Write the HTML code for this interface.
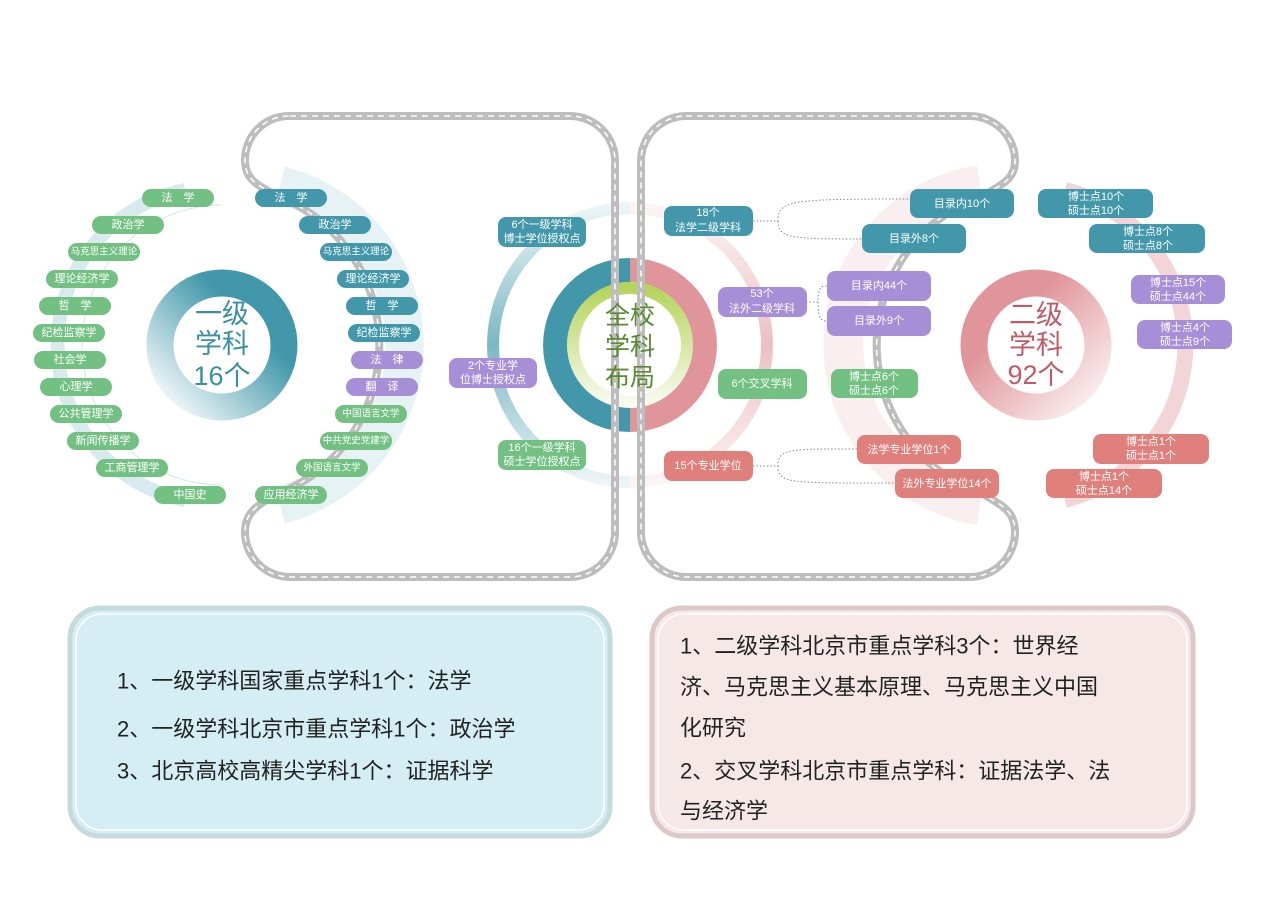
<!DOCTYPE html>
<html><head><meta charset="utf-8"><style>
body{margin:0;background:#fff;}
svg{display:block;font-family:"Liberation Sans","Noto Sans CJK SC",sans-serif;}
.t{fill:#fff;font-size:11px;text-anchor:middle;dominant-baseline:central;}
.s{font-size:9.5px;}
.big{font-size:22px;fill:#222;}
</style></head><body>
<svg width="1269" height="898" viewBox="0 0 1269 898" xmlns="http://www.w3.org/2000/svg">
<defs>
<linearGradient id="tg" x1="1" y1="0" x2="0" y2="1"><stop offset="0.3" stop-color="#4298aa"/><stop offset="1" stop-color="#4298aa" stop-opacity="0"/></linearGradient>
<linearGradient id="pg" x1="0" y1="0" x2="1" y2="1"><stop offset="0.3" stop-color="#e0959a"/><stop offset="1" stop-color="#e0959a" stop-opacity="0.1"/></linearGradient>
<linearGradient id="gg" x1="0" y1="0" x2="0" y2="1"><stop offset="0" stop-color="#b5d45a"/><stop offset="1" stop-color="#b5d45a" stop-opacity="0.1"/></linearGradient>
<linearGradient id="lb" x1="0" y1="0" x2="0" y2="1"><stop offset="0" stop-color="#4298aa" stop-opacity="0.1"/><stop offset="0.5" stop-color="#4298aa" stop-opacity="0.7"/><stop offset="1" stop-color="#4298aa" stop-opacity="0.1"/></linearGradient>
<linearGradient id="rp" x1="0" y1="0" x2="0" y2="1"><stop offset="0" stop-color="#e0959a" stop-opacity="0.1"/><stop offset="0.5" stop-color="#e0959a" stop-opacity="0.6"/><stop offset="1" stop-color="#e0959a" stop-opacity="0.1"/></linearGradient>
</defs>
<!-- soft glows -->
<path d="M280 185 A165 165 0 0 1 280 505" fill="none" stroke="#4298aa" stroke-opacity="0.13" stroke-width="38"/>
<path d="M185 190 A158 158 0 0 0 185 500" fill="none" stroke="#4298aa" stroke-opacity="0.2" stroke-width="14"/>
<path d="M222 205 A140 140 0 0 0 222 485" fill="none" stroke="#4298aa" stroke-opacity="0.25" stroke-width="1"/>
<path d="M980 185 A162 162 0 0 0 980 505" fill="none" stroke="#e0959a" stroke-opacity="0.15" stroke-width="40"/>
<path d="M1065 190 A160 160 0 0 1 1065 500" fill="none" stroke="#e0959a" stroke-opacity="0.4" stroke-width="16"/>
<!-- left donut -->
<circle cx="222" cy="345" r="62" fill="none" stroke="url(#tg)" stroke-width="27"/>
<text x="222" y="314" font-size="27" fill="#3a8fa3" text-anchor="middle" dominant-baseline="central">一级</text>
<text x="222" y="344" font-size="27" fill="#3a8fa3" text-anchor="middle" dominant-baseline="central">学科</text>
<text x="222" y="376" font-size="27" fill="#3a8fa3" text-anchor="middle" dominant-baseline="central">16个</text>
<!-- right donut -->
<circle cx="1036" cy="345" r="62" fill="none" stroke="url(#pg)" stroke-width="27"/>
<text x="1036" y="315" font-size="27" fill="#c05a66" text-anchor="middle" dominant-baseline="central">二级</text>
<text x="1036" y="345" font-size="27" fill="#c05a66" text-anchor="middle" dominant-baseline="central">学科</text>
<text x="1036" y="375" font-size="27" fill="#c05a66" text-anchor="middle" dominant-baseline="central">92个</text>
<!-- center big ring -->
<path d="M630 208 A137 137 0 0 0 630 482" fill="none" stroke="url(#lb)" stroke-width="12"/>
<path d="M630 208 A137 137 0 0 1 630 482" fill="none" stroke="url(#rp)" stroke-width="12"/>
<path d="M630 258 A87 87 0 0 0 630 432 Z" fill="#4298aa"/>
<path d="M630 258 A87 87 0 0 1 630 432 Z" fill="#e0959a"/>
<circle cx="630" cy="345" r="63" fill="#fff"/>
<circle cx="630" cy="345" r="57" fill="none" stroke="url(#gg)" stroke-width="12"/>
<!-- roads -->
<g fill="none">
<path d="M290 116 H570 A45 45 0 0 1 615 161 V532 A45 45 0 0 1 570 577 H290 A45 45 0 0 1 245 532 C245 512 258 505 275 495 A160 160 0 0 0 275 195 C258 185 245 180 245 160 A44 44 0 0 1 290 116 Z" stroke="#bdbdbd" stroke-width="8"/>
<path d="M290 116 H570 A45 45 0 0 1 615 161 V532 A45 45 0 0 1 570 577 H290 A45 45 0 0 1 245 532 C245 512 258 505 275 495 A160 160 0 0 0 275 195 C258 185 245 180 245 160 A44 44 0 0 1 290 116 Z" stroke="#fff" stroke-width="1.5" stroke-dasharray="6 5"/>
<path d="M686 116 H970 A45 45 0 0 1 1015 161 C1015 180 1000 185 985 195 A158 158 0 0 0 985 495 C1000 505 1015 510 1015 532 A45 45 0 0 1 970 577 H686 A45 45 0 0 1 641 532 V161 A45 45 0 0 1 686 116 Z" stroke="#bdbdbd" stroke-width="8"/>
<path d="M686 116 H970 A45 45 0 0 1 1015 161 C1015 180 1000 185 985 195 A158 158 0 0 0 985 495 C1000 505 1015 510 1015 532 A45 45 0 0 1 970 577 H686 A45 45 0 0 1 641 532 V161 A45 45 0 0 1 686 116 Z" stroke="#fff" stroke-width="1.5" stroke-dasharray="6 5"/>
</g>
<text x="630" y="316" font-size="25" fill="#5a8a32" text-anchor="middle" dominant-baseline="central">全校</text>
<text x="630" y="347" font-size="25" fill="#5a8a32" text-anchor="middle" dominant-baseline="central">学科</text>
<text x="630" y="378" font-size="25" fill="#5a8a32" text-anchor="middle" dominant-baseline="central">布局</text>
<!-- dotted connectors -->
<g fill="none" stroke="#888" stroke-width="1" stroke-dasharray="1.5 2">
<path d="M753 221 H778 C778 200 790 199 910 199 M778 221 C778 238 790 239 862 239"/>
<path d="M806 302 H818 C818 286 822 286 827 286 M818 302 C818 320 822 321 827 321"/>
<path d="M753 466 H778 C778 448 790 449 857 449 M778 466 C778 484 790 483 895 483"/>
</g>
<!-- left green pills -->
<g>
<g fill="#72c182">
<rect x="142" y="189" width="72" height="18" rx="9"/><rect x="92" y="216" width="72" height="18" rx="9"/>
<rect x="68" y="243" width="72" height="18" rx="9"/><rect x="46" y="270" width="72" height="18" rx="9"/>
<rect x="39" y="297" width="72" height="18" rx="9"/><rect x="33" y="324" width="72" height="18" rx="9"/>
<rect x="34" y="351" width="72" height="18" rx="9"/><rect x="40" y="378" width="72" height="18" rx="9"/>
<rect x="50" y="405" width="72" height="18" rx="9"/><rect x="67" y="432" width="72" height="18" rx="9"/>
<rect x="96" y="459" width="72" height="18" rx="9"/><rect x="154" y="486" width="72" height="18" rx="9"/>
</g>
<text class="t" x="178" y="198">法　学</text><text class="t" x="128" y="225">政治学</text>
<text class="t s" x="104" y="252">马克思主义理论</text><text class="t" x="82" y="279">理论经济学</text>
<text class="t" x="75" y="306">哲　学</text><text class="t" x="69" y="333">纪检监察学</text>
<text class="t" x="70" y="360">社会学</text><text class="t" x="76" y="387">心理学</text>
<text class="t" x="86" y="414">公共管理学</text><text class="t" x="103" y="441">新闻传播学</text>
<text class="t" x="132" y="468">工商管理学</text><text class="t" x="190" y="495">中国史</text>
</g>
<!-- right column pills -->
<g>
<rect x="255" y="189" width="72" height="18" rx="9" fill="#4298aa"/>
<rect x="299" y="216" width="72" height="18" rx="9" fill="#4298aa"/>
<rect x="320" y="243" width="72" height="18" rx="9" fill="#4298aa"/>
<rect x="337" y="270" width="72" height="18" rx="9" fill="#4298aa"/>
<rect x="346" y="297" width="72" height="18" rx="9" fill="#4298aa"/>
<rect x="348" y="324" width="72" height="18" rx="9" fill="#4298aa"/>
<rect x="351" y="351" width="72" height="18" rx="9" fill="#a68fd6"/>
<rect x="346" y="378" width="72" height="18" rx="9" fill="#a68fd6"/>
<rect x="335" y="405" width="72" height="18" rx="9" fill="#72c182"/>
<rect x="320" y="432" width="72" height="18" rx="9" fill="#72c182"/>
<rect x="296" y="459" width="72" height="18" rx="9" fill="#72c182"/>
<rect x="255" y="486" width="72" height="18" rx="9" fill="#72c182"/>
<text class="t" x="291" y="198">法　学</text><text class="t" x="335" y="225">政治学</text>
<text class="t s" x="356" y="252">马克思主义理论</text><text class="t" x="373" y="279">理论经济学</text>
<text class="t" x="382" y="306">哲　学</text><text class="t" x="384" y="333">纪检监察学</text>
<text class="t" x="387" y="360">法　律</text><text class="t" x="382" y="387">翻　译</text>
<text class="t s" x="371" y="414">中国语言文学</text><text class="t s" x="356" y="441">中共党史党建学</text>
<text class="t s" x="332" y="468">外国语言文学</text><text class="t" x="291" y="495">应用经济学</text>
</g>
<!-- center labels -->
<g>
<rect x="498" y="217" width="88" height="30" rx="8" fill="#4298aa"/>
<text class="t" x="542" y="225">6个一级学科</text><text class="t" x="542" y="239">博士学位授权点</text>
<rect x="449" y="358" width="88" height="30" rx="8" fill="#a68fd6"/>
<text class="t" x="493" y="366">2个专业学</text><text class="t" x="493" y="380">位博士授权点</text>
<rect x="498" y="440" width="88" height="30" rx="8" fill="#72c182"/>
<text class="t" x="542" y="448">16个一级学科</text><text class="t" x="542" y="462">硕士学位授权点</text>
<rect x="664" y="206" width="89" height="30" rx="8" fill="#4298aa"/>
<text class="t" x="708" y="213">18个</text><text class="t" x="708" y="228">法学二级学科</text>
<rect x="718" y="287" width="89" height="30" rx="8" fill="#a68fd6"/>
<text class="t" x="762" y="294">53个</text><text class="t" x="762" y="309">法外二级学科</text>
<rect x="718" y="369" width="89" height="30" rx="8" fill="#72c182"/>
<text class="t" x="762" y="384">6个交叉学科</text>
<rect x="664" y="451" width="89" height="30" rx="8" fill="#e0807c"/>
<text class="t" x="708" y="466">15个专业学位</text>
</g>
<!-- right side labels -->
<g>
<rect x="910" y="189" width="104" height="29" rx="8" fill="#4298aa"/><text class="t" x="962" y="204">目录内10个</text>
<rect x="862" y="224" width="104" height="29" rx="8" fill="#4298aa"/><text class="t" x="914" y="239">目录外8个</text>
<rect x="827" y="271" width="104" height="30" rx="8" fill="#a68fd6"/><text class="t" x="879" y="286">目录内44个</text>
<rect x="827" y="306" width="104" height="30" rx="8" fill="#a68fd6"/><text class="t" x="879" y="321">目录外9个</text>
<rect x="831" y="369" width="87" height="29" rx="8" fill="#72c182"/><text class="t" x="874" y="377">博士点6个</text><text class="t" x="874" y="391">硕士点6个</text>
<rect x="857" y="435" width="104" height="29" rx="8" fill="#e0807c"/><text class="t" x="909" y="450">法学专业学位1个</text>
<rect x="895" y="469" width="104" height="29" rx="8" fill="#e0807c"/><text class="t" x="947" y="484">法外专业学位14个</text>
<rect x="1038" y="189" width="115" height="29" rx="8" fill="#4298aa"/><text class="t" x="1096" y="197">博士点10个</text><text class="t" x="1096" y="211">硕士点10个</text>
<rect x="1089" y="224" width="116" height="29" rx="8" fill="#4298aa"/><text class="t" x="1148" y="232">博士点8个</text><text class="t" x="1148" y="246">硕士点8个</text>
<rect x="1131" y="275" width="94" height="29" rx="8" fill="#a68fd6"/><text class="t" x="1178" y="283">博士点15个</text><text class="t" x="1178" y="297">硕士点44个</text>
<rect x="1137" y="320" width="95" height="29" rx="8" fill="#a68fd6"/><text class="t" x="1185" y="328">博士点4个</text><text class="t" x="1185" y="342">硕士点9个</text>
<rect x="1093" y="434" width="116" height="30" rx="8" fill="#e0807c"/><text class="t" x="1151" y="442">博士点1个</text><text class="t" x="1151" y="456">硕士点1个</text>
<rect x="1046" y="469" width="116" height="29" rx="8" fill="#e0807c"/><text class="t" x="1104" y="477">博士点1个</text><text class="t" x="1104" y="491">硕士点14个</text>
</g>
<!-- bottom boxes -->
<rect x="70" y="608" width="540" height="228" rx="30" fill="#d4eef4" stroke="#c5dadd" stroke-width="5"/>
<rect x="76" y="614" width="528" height="216" rx="26" fill="none" stroke="#fff" stroke-width="1.5"/>
<text class="big" x="117" y="681" dominant-baseline="central">1、一级学科国家重点学科1个：法学</text>
<text class="big" x="117" y="729" dominant-baseline="central">2、一级学科北京市重点学科1个：政治学</text>
<text class="big" x="117" y="771" dominant-baseline="central">3、北京高校高精尖学科1个：证据科学</text>
<rect x="652" y="608" width="541" height="228" rx="30" fill="#f7e8e8" stroke="#dcc8c8" stroke-width="5"/>
<rect x="658" y="614" width="529" height="216" rx="26" fill="none" stroke="#fff" stroke-width="1.5"/>
<text class="big" x="680" y="646" dominant-baseline="central">1、二级学科北京市重点学科3个：世界经</text>
<text class="big" x="680" y="687" dominant-baseline="central">济、马克思主义基本原理、马克思主义中国</text>
<text class="big" x="680" y="728" dominant-baseline="central">化研究</text>
<text class="big" x="680" y="771" dominant-baseline="central">2、交叉学科北京市重点学科：证据法学、法</text>
<text class="big" x="680" y="811" dominant-baseline="central">与经济学</text>
</svg>
</body></html>
